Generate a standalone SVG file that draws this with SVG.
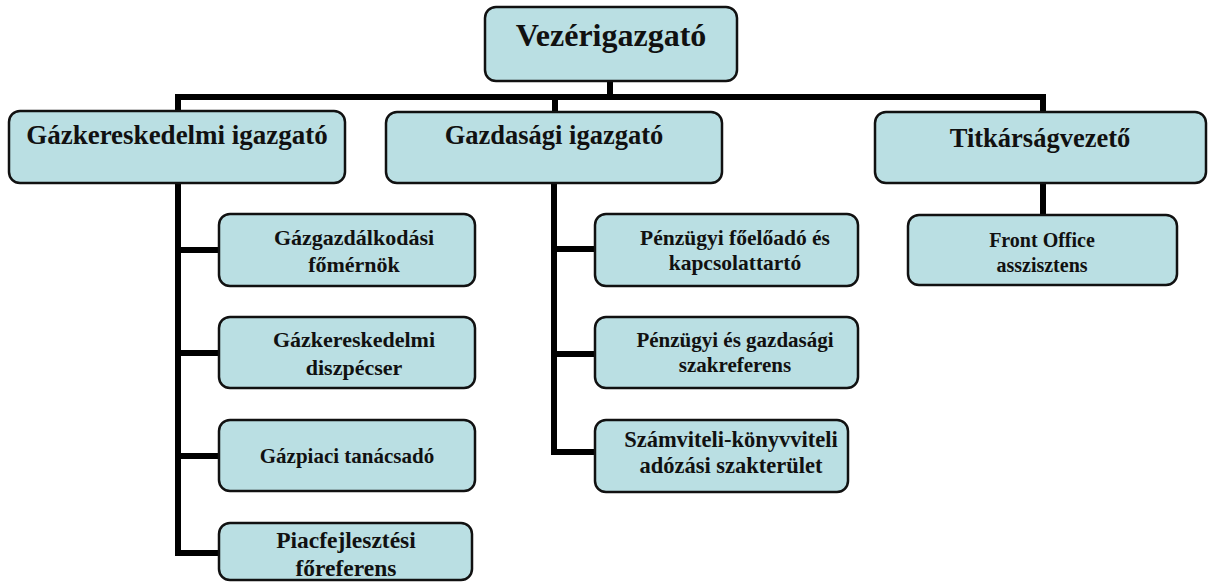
<svg xmlns="http://www.w3.org/2000/svg" width="1208" height="583" viewBox="0 0 1208 583">
<style>
.box{fill:#BADFE3;stroke:#111;stroke-width:2.5}
.t{font-family:"Liberation Serif","Times New Roman",serif;font-weight:bold;fill:#111;text-anchor:middle}
.c{stroke:#000;stroke-width:6;fill:none;stroke-linecap:butt}
</style>
<rect width="1208" height="583" fill="#fff"/>
<g id="connectors">
<path class="c" d="M610 81V97"/>
<path class="c" d="M175 97H1046"/>
<path class="c" d="M178 97V112"/>
<path class="c" d="M555 97V112"/>
<path class="c" d="M1043 97V112"/>
<path class="c" d="M178 183V556"/>
<path class="c" d="M175 250H219M175 353H219M175 456H219M175 553H219"/>
<path class="c" d="M554 183V455"/>
<path class="c" d="M551 249H595M551 354H595M551 452H595"/>
<path class="c" d="M1043 183V215"/>
</g>
<g id="n-vezer">
<rect class="box" x="485" y="7" width="252" height="74" rx="11"/>
<text class="t" x="611" y="46" font-size="32">Vezérigazgató</text>
</g>
<g id="n-gazker">
<rect class="box" x="9" y="111" width="336" height="72" rx="11"/>
<text class="t" x="177" y="144" font-size="27">Gázkereskedelmi igazgató</text>
</g>
<g id="n-gazd">
<rect class="box" x="386" y="112" width="336" height="71" rx="11"/>
<text class="t" x="554" y="144" font-size="26.5">Gazdasági igazgató</text>
</g>
<g id="n-titk">
<rect class="box" x="875" y="112" width="331" height="71" rx="11"/>
<text class="t" x="1040" y="147" font-size="26.5">Titkárságvezető</text>
</g>
<g id="n-gazgazd">
<rect class="box" x="219" y="214" width="256" height="72" rx="11"/>
<text class="t" x="354" y="245" font-size="22">Gázgazdálkodási</text>
<text class="t" x="354" y="272" font-size="22">főmérnök</text>
</g>
<g id="n-diszp">
<rect class="box" x="219" y="317" width="256" height="71" rx="11"/>
<text class="t" x="354" y="347" font-size="22">Gázkereskedelmi</text>
<text class="t" x="354" y="375" font-size="22">diszpécser</text>
</g>
<g id="n-tanacs">
<rect class="box" x="219" y="420" width="256" height="71" rx="11"/>
<text class="t" x="347" y="463" font-size="21">Gázpiaci tanácsadó</text>
</g>
<g id="n-piacf">
<rect class="box" x="219" y="523" width="253" height="57" rx="11"/>
<text class="t" x="346" y="548" font-size="23.5">Piacfejlesztési</text>
<text class="t" x="346" y="576" font-size="23.5">főreferens</text>
</g>
<g id="n-penzf">
<rect class="box" x="595" y="214" width="263" height="72" rx="11"/>
<text class="t" x="735" y="245" font-size="21.5">Pénzügyi főelőadó és</text>
<text class="t" x="735" y="270" font-size="21.5">kapcsolattartó</text>
</g>
<g id="n-penzgazd">
<rect class="box" x="595" y="317" width="263" height="71" rx="11"/>
<text class="t" x="735" y="347" font-size="21">Pénzügyi és gazdasági</text>
<text class="t" x="735" y="372" font-size="21">szakreferens</text>
</g>
<g id="n-szamv">
<rect class="box" x="595" y="420" width="253" height="72" rx="11"/>
<text class="t" x="731" y="447" font-size="22.5">Számviteli-könyvviteli</text>
<text class="t" x="731" y="473" font-size="22.5">adózási szakterület</text>
</g>
<g id="n-front">
<rect class="box" x="908" y="215" width="269" height="70" rx="11"/>
<text class="t" x="1042" y="247" font-size="20">Front Office</text>
<text class="t" x="1042" y="272" font-size="20">asszisztens</text>
</g>
</svg>
